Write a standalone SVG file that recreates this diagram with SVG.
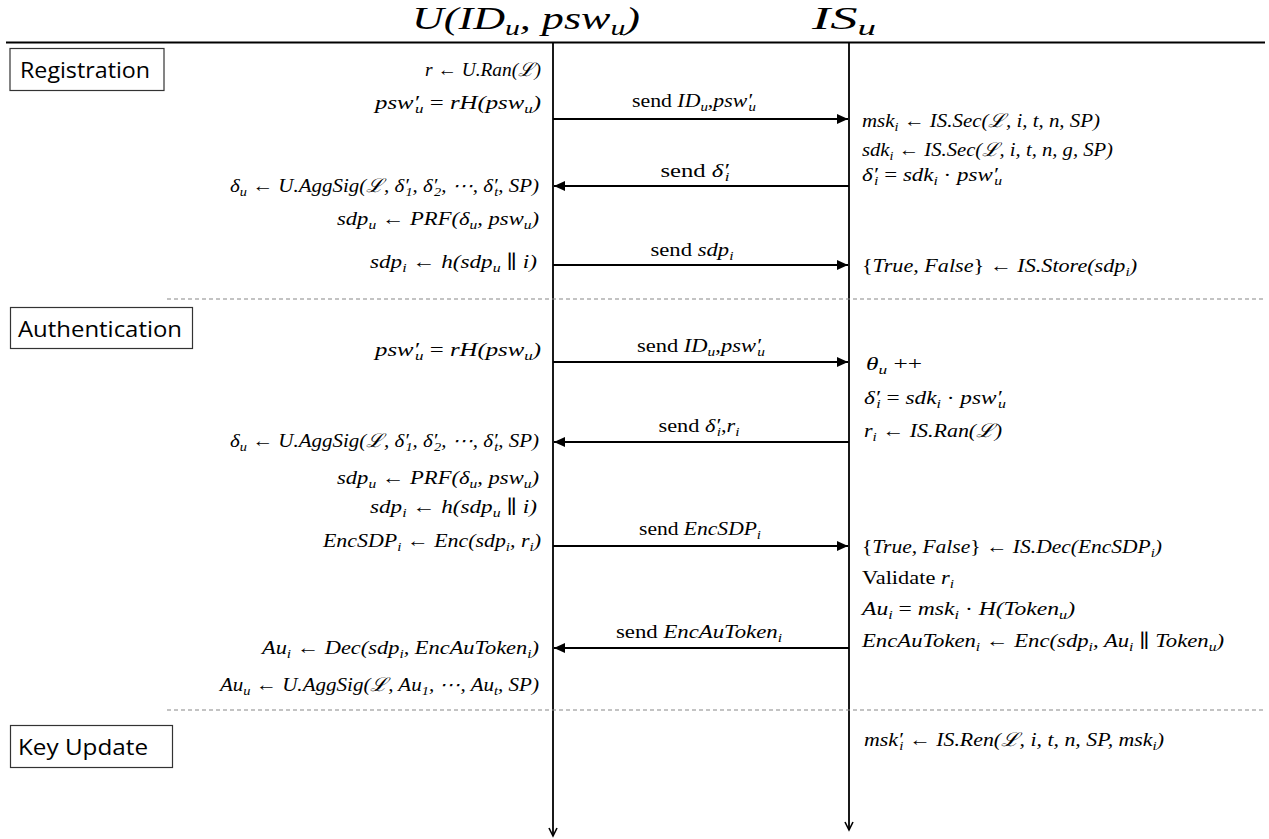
<svg xmlns="http://www.w3.org/2000/svg" width="1269" height="839" viewBox="0 0 1269 839">
<style>
.m{font-family:"Liberation Serif","DejaVu Serif",serif;font-style:italic;font-size:19px;fill:#000}
.u{font-style:normal}
.e{text-anchor:end}
.c{text-anchor:middle}
.sb{font-size:13px;baseline-shift:-4px}
.hd{font-family:"Liberation Serif","DejaVu Serif",serif;font-style:italic;font-size:31px;fill:#000}
.hsb{font-size:21px;baseline-shift:-6px}
.lbl{font-family:"Open Sans","Liberation Sans",sans-serif;font-size:21px;fill:#000}
.box{fill:#fff;stroke:#333;stroke-width:1.2}
.msg{stroke:#000;stroke-width:2;fill:none;marker-end:url(#ah)}
.life{stroke:#000;stroke-width:1.8;fill:none;marker-end:url(#oh)}
.dash{stroke:#888;stroke-width:1.2;stroke-dasharray:4 3;fill:none}
</style>
<defs>
<marker id="ah" markerWidth="12" markerHeight="10" refX="11" refY="5" orient="auto" markerUnits="userSpaceOnUse">
<path d="M0,0 L11,5 L0,10 z" fill="#000"/>
</marker>
<marker id="oh" markerWidth="12" markerHeight="12" refX="9" refY="5" orient="auto" markerUnits="userSpaceOnUse">
<path d="M1,1 L9,5 L1,9" fill="none" stroke="#000" stroke-width="1.6"/>
</marker>
</defs>

<g id="header">
<line x1="6" y1="42.5" x2="1265" y2="42.5" stroke="#000" stroke-width="2"/>
<text class="hd" x="412" y="29" textLength="228" lengthAdjust="spacingAndGlyphs">U(ID<tspan class="hsb">u</tspan>, psw<tspan class="hsb">u</tspan>)</text>
<text class="hd" x="812" y="29" textLength="64" lengthAdjust="spacingAndGlyphs">IS<tspan class="hsb">u</tspan></text>
</g>

<g id="lifelines">
<line class="life" x1="553" y1="42" x2="553" y2="836"/>
<line class="life" x1="849" y1="42" x2="849" y2="830"/>
</g>

<g id="separators">
<line class="dash" x1="167" y1="299" x2="1265" y2="299"/>
<line class="dash" x1="167" y1="710" x2="1265" y2="710"/>
</g>

<g id="phase-registration">
<rect class="box" x="10" y="48.5" width="154" height="42"/>
<text class="lbl" x="20" y="78" textLength="130" lengthAdjust="spacingAndGlyphs">Registration</text>
</g>
<g id="phase-authentication">
<rect class="box" x="10.5" y="307.5" width="182" height="41"/>
<text class="lbl" x="18" y="337" textLength="164" lengthAdjust="spacingAndGlyphs">Authentication</text>
</g>
<g id="phase-keyupdate">
<rect class="box" x="10.5" y="725.5" width="162" height="42"/>
<text class="lbl" x="18" y="755" textLength="130" lengthAdjust="spacingAndGlyphs">Key Update</text>
</g>

<g id="connectors">
<line class="msg" x1="553" y1="119" x2="848" y2="119"/>
<line class="msg" x1="849" y1="186" x2="554" y2="186"/>
<line class="msg" x1="553" y1="265" x2="848" y2="265"/>
<line class="msg" x1="553" y1="362" x2="848" y2="362"/>
<line class="msg" x1="849" y1="442" x2="554" y2="442"/>
<line class="msg" x1="553" y1="546" x2="848" y2="546"/>
<line class="msg" x1="849" y1="648" x2="554" y2="648"/>
</g>

<g id="message-labels">
<text class="m c" x="694" y="107" textLength="124" lengthAdjust="spacingAndGlyphs"><tspan class="u">send </tspan>ID<tspan class="sb">u</tspan><tspan class="u">,</tspan>psw′<tspan class="sb" dx="-3">u</tspan></text>
<text class="m c" x="695" y="177" textLength="69" lengthAdjust="spacingAndGlyphs"><tspan class="u">send </tspan>δ′<tspan class="sb" dx="-3">i</tspan></text>
<text class="m c" x="692" y="256" textLength="83" lengthAdjust="spacingAndGlyphs"><tspan class="u">send </tspan>sdp<tspan class="sb">i</tspan></text>
<text class="m c" x="701" y="352" textLength="128" lengthAdjust="spacingAndGlyphs"><tspan class="u">send </tspan>ID<tspan class="sb">u</tspan><tspan class="u">,</tspan>psw′<tspan class="sb" dx="-3">u</tspan></text>
<text class="m c" x="699" y="432" textLength="81" lengthAdjust="spacingAndGlyphs"><tspan class="u">send </tspan>δ′<tspan class="sb" dx="-3">i</tspan><tspan class="u">,</tspan>r<tspan class="sb">i</tspan></text>
<text class="m c" x="700" y="535" textLength="122" lengthAdjust="spacingAndGlyphs"><tspan class="u">send </tspan>EncSDP<tspan class="sb">i</tspan></text>
<text class="m c" x="699" y="638" textLength="166" lengthAdjust="spacingAndGlyphs"><tspan class="u">send </tspan>EncAuToken<tspan class="sb">i</tspan></text>
</g>

<g id="user-steps">
<text class="m e" x="541" y="76" textLength="116" lengthAdjust="spacingAndGlyphs">r <tspan class="u">←</tspan> U.Ran(ℒ)</text>
<text class="m e" x="541" y="109" textLength="166" lengthAdjust="spacingAndGlyphs">psw′<tspan class="sb" dx="-3">u</tspan> <tspan class="u">=</tspan> rH(psw<tspan class="sb">u</tspan>)</text>
<text class="m e" x="539" y="192" textLength="309" lengthAdjust="spacingAndGlyphs">δ<tspan class="sb">u</tspan> <tspan class="u">←</tspan> U.AggSig(ℒ, δ′<tspan class="sb" dx="-3">1</tspan>, δ′<tspan class="sb" dx="-3">2</tspan>, ⋯, δ′<tspan class="sb" dx="-3">t</tspan>, SP)</text>
<text class="m e" x="539" y="225" textLength="202" lengthAdjust="spacingAndGlyphs">sdp<tspan class="sb">u</tspan> <tspan class="u">←</tspan> PRF(δ<tspan class="sb">u</tspan>, psw<tspan class="sb">u</tspan>)</text>
<text class="m e" x="537" y="268" textLength="167" lengthAdjust="spacingAndGlyphs">sdp<tspan class="sb">i</tspan> <tspan class="u">←</tspan> h(sdp<tspan class="sb">u</tspan> <tspan class="u">∥</tspan> i)</text>

<text class="m e" x="541" y="356" textLength="166" lengthAdjust="spacingAndGlyphs">psw′<tspan class="sb" dx="-3">u</tspan> <tspan class="u">=</tspan> rH(psw<tspan class="sb">u</tspan>)</text>
<text class="m e" x="539" y="447" textLength="309" lengthAdjust="spacingAndGlyphs">δ<tspan class="sb">u</tspan> <tspan class="u">←</tspan> U.AggSig(ℒ, δ′<tspan class="sb" dx="-3">1</tspan>, δ′<tspan class="sb" dx="-3">2</tspan>, ⋯, δ′<tspan class="sb" dx="-3">t</tspan>, SP)</text>
<text class="m e" x="539" y="484" textLength="202" lengthAdjust="spacingAndGlyphs">sdp<tspan class="sb">u</tspan> <tspan class="u">←</tspan> PRF(δ<tspan class="sb">u</tspan>, psw<tspan class="sb">u</tspan>)</text>
<text class="m e" x="537" y="513" textLength="167" lengthAdjust="spacingAndGlyphs">sdp<tspan class="sb">i</tspan> <tspan class="u">←</tspan> h(sdp<tspan class="sb">u</tspan> <tspan class="u">∥</tspan> i)</text>
<text class="m e" x="541" y="547" textLength="218" lengthAdjust="spacingAndGlyphs">EncSDP<tspan class="sb">i</tspan> <tspan class="u">←</tspan> Enc(sdp<tspan class="sb">i</tspan>, r<tspan class="sb">i</tspan>)</text>
<text class="m e" x="539" y="654" textLength="277" lengthAdjust="spacingAndGlyphs">Au<tspan class="sb">i</tspan> <tspan class="u">←</tspan> Dec(sdp<tspan class="sb">i</tspan>, EncAuToken<tspan class="sb">i</tspan>)</text>
<text class="m e" x="539" y="691" textLength="319" lengthAdjust="spacingAndGlyphs">Au<tspan class="sb">u</tspan> <tspan class="u">←</tspan> U.AggSig(ℒ, Au<tspan class="sb">1</tspan>, ⋯, Au<tspan class="sb">t</tspan>, SP)</text>
</g>

<g id="server-steps">
<text class="m" x="862" y="127" textLength="238" lengthAdjust="spacingAndGlyphs">msk<tspan class="sb">i</tspan> <tspan class="u">←</tspan> IS.Sec(ℒ, i, t, n, SP)</text>
<text class="m" x="862" y="156" textLength="251" lengthAdjust="spacingAndGlyphs">sdk<tspan class="sb">i</tspan> <tspan class="u">←</tspan> IS.Sec(ℒ, i, t, n, g, SP)</text>
<text class="m" x="862" y="181" textLength="140" lengthAdjust="spacingAndGlyphs">δ′<tspan class="sb" dx="-3">i</tspan> <tspan class="u">=</tspan> sdk<tspan class="sb">i</tspan> <tspan class="u">·</tspan> psw′<tspan class="sb" dx="-3">u</tspan></text>
<text class="m" x="862" y="272" textLength="275" lengthAdjust="spacingAndGlyphs"><tspan class="u">{</tspan>True, False<tspan class="u">}</tspan> <tspan class="u">←</tspan> IS.Store(sdp<tspan class="sb">i</tspan>)</text>

<text class="m" x="866" y="370" textLength="56" lengthAdjust="spacingAndGlyphs">θ<tspan class="sb">u</tspan> <tspan class="u">++</tspan></text>
<text class="m" x="864" y="404" textLength="142" lengthAdjust="spacingAndGlyphs">δ′<tspan class="sb" dx="-3">i</tspan> <tspan class="u">=</tspan> sdk<tspan class="sb">i</tspan> <tspan class="u">·</tspan> psw′<tspan class="sb" dx="-3">u</tspan></text>
<text class="m" x="864" y="437" textLength="138" lengthAdjust="spacingAndGlyphs">r<tspan class="sb">i</tspan> <tspan class="u">←</tspan> IS.Ran(ℒ)</text>
<text class="m" x="862" y="553" textLength="300" lengthAdjust="spacingAndGlyphs"><tspan class="u">{</tspan>True, False<tspan class="u">}</tspan> <tspan class="u">←</tspan> IS.Dec(EncSDP<tspan class="sb">i</tspan>)</text>
<text class="m" x="862" y="584" textLength="92" lengthAdjust="spacingAndGlyphs"><tspan class="u">Validate </tspan>r<tspan class="sb">i</tspan></text>
<text class="m" x="862" y="615" textLength="213" lengthAdjust="spacingAndGlyphs">Au<tspan class="sb">i</tspan> <tspan class="u">=</tspan> msk<tspan class="sb">i</tspan> <tspan class="u">·</tspan> H(Token<tspan class="sb">u</tspan>)</text>
<text class="m" x="862" y="647" textLength="362" lengthAdjust="spacingAndGlyphs">EncAuToken<tspan class="sb">i</tspan> <tspan class="u">←</tspan> Enc(sdp<tspan class="sb">i</tspan>, Au<tspan class="sb">i</tspan> <tspan class="u">∥</tspan> Token<tspan class="sb">u</tspan>)</text>
<text class="m" x="864" y="746" textLength="300" lengthAdjust="spacingAndGlyphs">msk′<tspan class="sb" dx="-3">i</tspan> <tspan class="u">←</tspan> IS.Ren(ℒ, i, t, n, SP, msk<tspan class="sb">i</tspan>)</text>
</g>
</svg>
